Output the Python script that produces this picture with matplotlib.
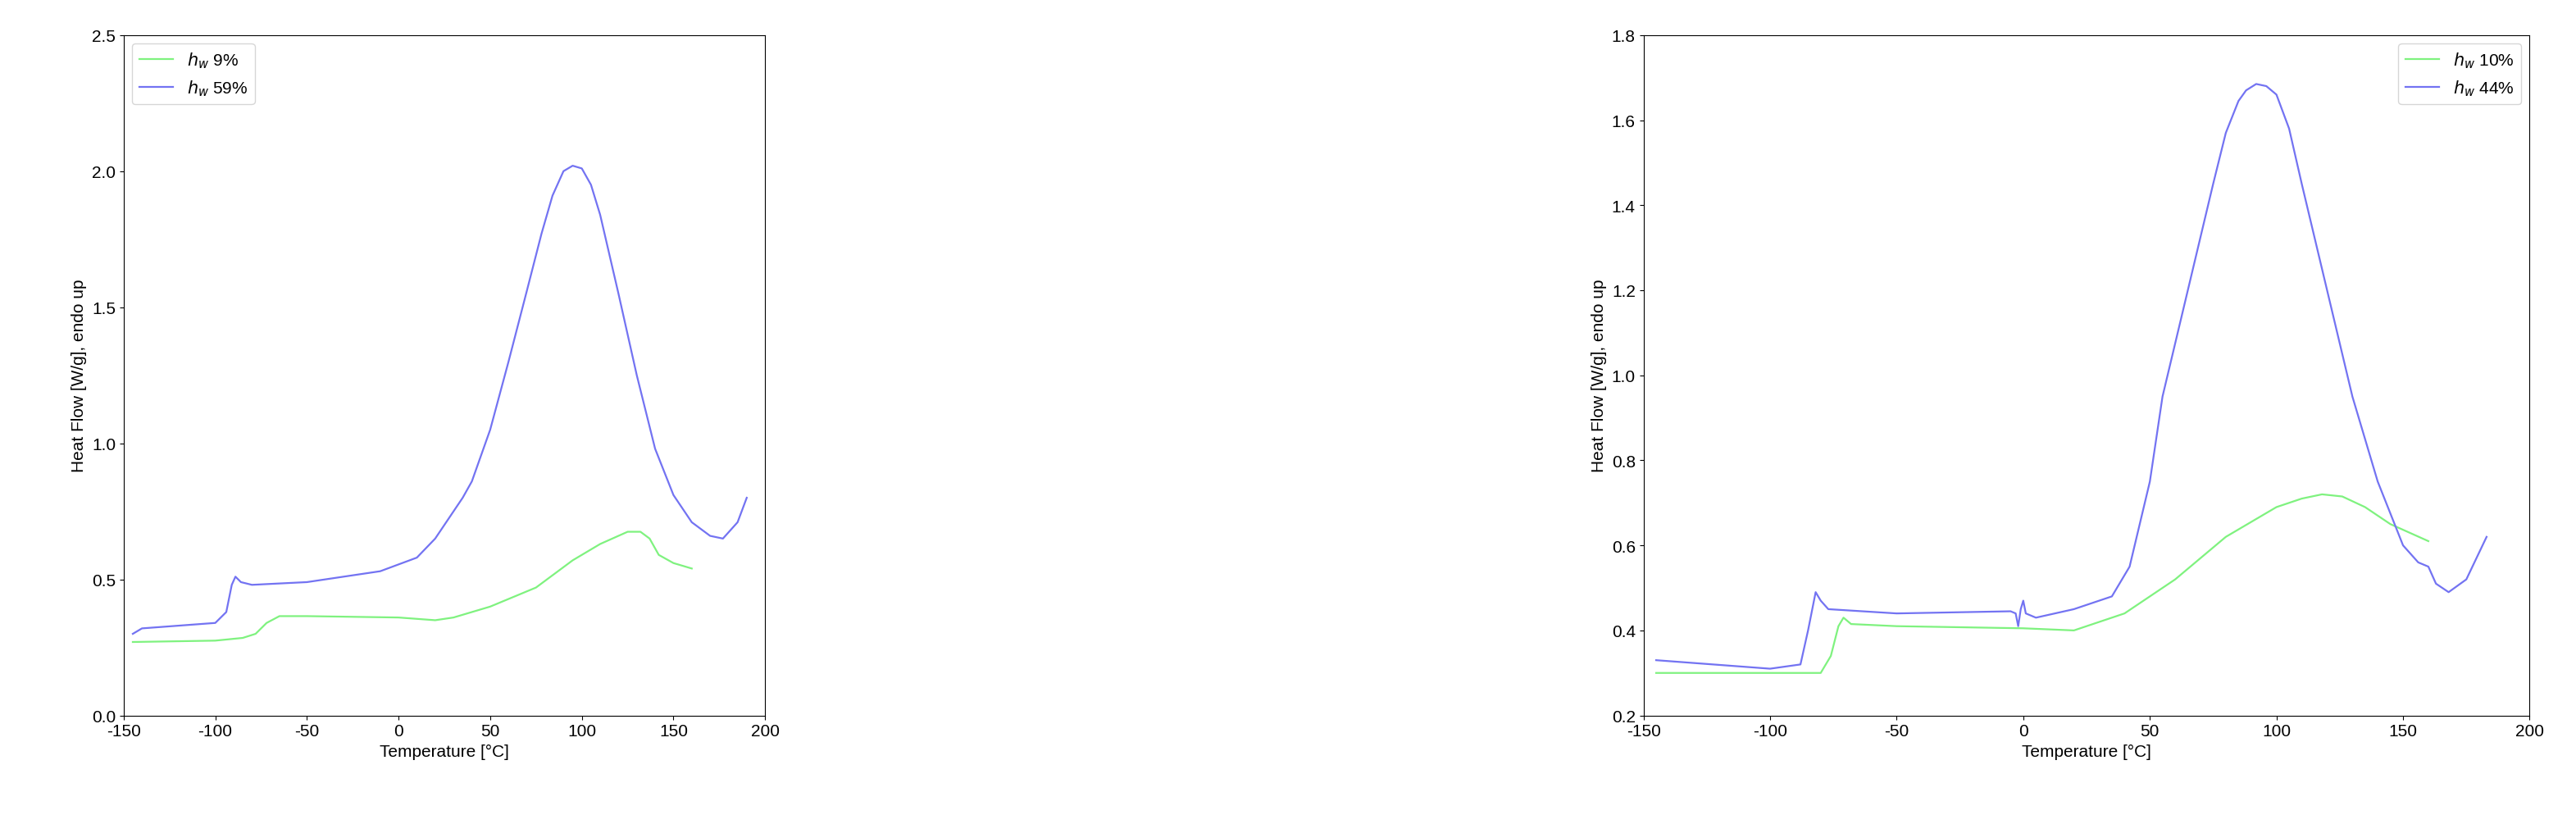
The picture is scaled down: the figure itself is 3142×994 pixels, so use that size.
import matplotlib

matplotlib.use("Agg")
import matplotlib.pyplot as plt

plt.rcParams["font.family"] = ["Liberation Sans", "DejaVu Sans"]
plt.rcParams["font.size"] = 15
plt.rcParams["axes.unicode_minus"] = False

# left panel
l_green_t = [-145, -100, -85, -78, -72, -65, -50, 0, 20, 30, 50, 75, 95, 110, 125, 132, 137, 142, 150, 160]
l_green_v = [0.27, 0.275, 0.285, 0.30, 0.34, 0.365, 0.365, 0.36, 0.35, 0.36, 0.40, 0.47, 0.57, 0.63, 0.675, 0.675, 0.65, 0.59, 0.56, 0.54]
l_blue_t = [-145, -140, -100, -94, -91, -89, -86, -80, -50, -10, 10, 20, 30, 35, 40, 50, 60, 70, 78, 84, 90, 95, 100, 105, 110, 120, 130, 140, 150, 160, 170, 177, 185, 190]
l_blue_v = [0.30, 0.32, 0.34, 0.38, 0.48, 0.51, 0.49, 0.48, 0.49, 0.53, 0.58, 0.65, 0.75, 0.80, 0.86, 1.05, 1.30, 1.56, 1.77, 1.91, 2.00, 2.02, 2.01, 1.95, 1.84, 1.55, 1.25, 0.98, 0.81, 0.71, 0.66, 0.65, 0.71, 0.80]

# right panel
r_green_t = [-145, -80, -76, -73, -71, -68, -50, 0, 20, 40, 60, 80, 100, 110, 118, 126, 135, 145, 160]
r_green_v = [0.30, 0.30, 0.34, 0.41, 0.43, 0.415, 0.41, 0.405, 0.40, 0.44, 0.52, 0.62, 0.69, 0.71, 0.72, 0.715, 0.69, 0.65, 0.61]
r_blue_t = [-145, -100, -88, -85, -82, -80, -77, -50, -5, -3, -2, -1, 0, 1, 5, 20, 35, 42, 50, 55, 65, 75, 80, 85, 88, 92, 96, 100, 105, 110, 120, 130, 140, 150, 156, 160, 163, 168, 175, 183]
r_blue_v = [0.33, 0.31, 0.32, 0.40, 0.49, 0.47, 0.45, 0.44, 0.445, 0.44, 0.41, 0.45, 0.47, 0.44, 0.43, 0.45, 0.48, 0.55, 0.75, 0.95, 1.20, 1.45, 1.57, 1.645, 1.67, 1.685, 1.68, 1.66, 1.58, 1.45, 1.20, 0.95, 0.75, 0.60, 0.56, 0.55, 0.51, 0.49, 0.52, 0.62]

GREEN = "#7ff27f"
BLUE = "#7373f2"

fig = plt.figure(figsize=(31.42, 9.95), dpi=100)
ax1 = fig.add_axes([0.048, 0.122, 0.249, 0.834])
ax2 = fig.add_axes([0.638, 0.122, 0.344, 0.834])

ax1.plot(l_green_t, l_green_v, color=GREEN, lw=1.6, label="$h_w$ 9%")
ax1.plot(l_blue_t, l_blue_v, color=BLUE, lw=1.6, label="$h_w$ 59%")
ax1.set_xlim(-150, 200)
ax1.set_ylim(0, 2.5)
ax1.legend(loc="upper left")

ax2.plot(r_green_t, r_green_v, color=GREEN, lw=1.6, label="$h_w$ 10%")
ax2.plot(r_blue_t, r_blue_v, color=BLUE, lw=1.6, label="$h_w$ 44%")
ax2.set_xlim(-150, 200)
ax2.set_ylim(0.2, 1.8)
ax2.legend(loc="upper right")

for ax in (ax1, ax2):
    ax.set_xlabel("Temperature [°C]")
    ax.set_ylabel("Heat Flow [W/g], endo up")

fig.savefig("out.png", dpi=100)
